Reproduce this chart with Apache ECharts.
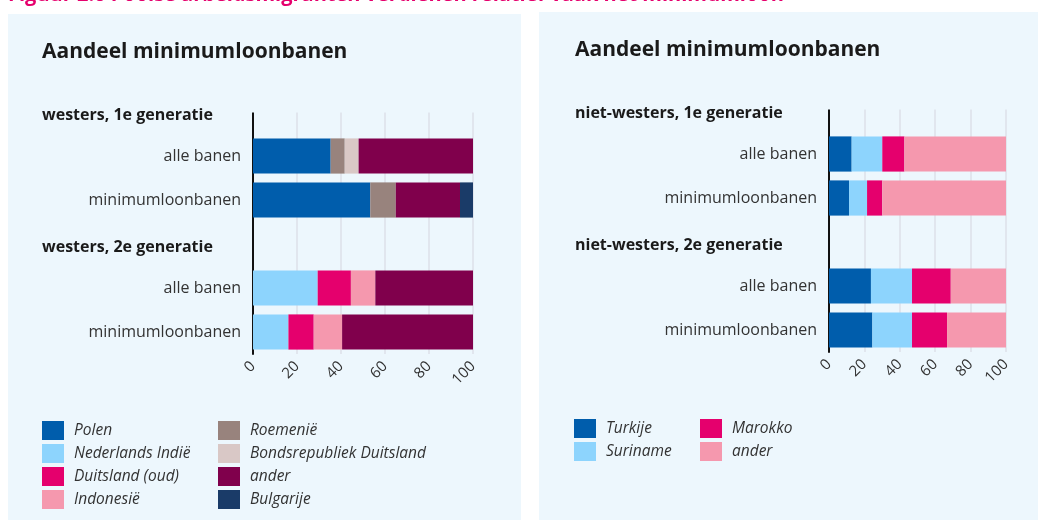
<!DOCTYPE html>
<html>
<head>
<meta charset="utf-8">
<script src="https://cdn.jsdelivr.net/npm/echarts@6/dist/echarts.min.js"></script>
<style>
  html, body { margin: 0; padding: 0; background: #fff; }
  #chart { width: 1038px; height: 520px; }
</style>
</head>
<body>
<div id="chart"></div>
<script>
// categorieën (van boven naar onder), kopjes staan op een eigen rij
const catLeft = ['westers, 1e generatie', 'alle banen', 'minimumloonbanen', 'westers, 2e generatie', 'alle banen', 'minimumloonbanen'];
const catRight = ['niet-westers, 1e generatie', 'alle banen', 'minimumloonbanen', 'niet-westers, 2e generatie', 'alle banen', 'minimumloonbanen'];
const headerRows = [0, 3];

// waarden: [1e gen alle banen, 1e gen minimumloonbanen, 2e gen alle banen, 2e gen minimumloonbanen]
const polen = [35.3, 53.3, null, null];
const nederlandsIndie = [null, null, 29.4, 16.1];
const duitslandOud = [null, null, 15.1, 11.5];
const indonesie = [null, null, 11.1, 12.9];
const roemenie = [6.4, 11.6, null, null];
const brd = [6.3, null, null, null];
const anderWesters = [52.0, 29.2, 44.4, 59.5];
const bulgarije = [null, 5.9, null, null];

const turkije = [12.8, 11.3, 23.7, 24.5];
const suriname = [17.3, 10.2, 23.2, 22.4];
const marokko = [12.5, 8.6, 21.9, 19.8];
const anderNietWesters = [57.4, 69.9, 31.2, 33.3];

const xTicks = [0, 20, 40, 60, 80, 100];

const font = '"Open Sans", sans-serif';
const panelBg = '#edf7fd';

// 4 waarden naar 6 rijen (kopjes krijgen null)
function rows(vals) {
    return [null, vals[0], vals[1], null, vals[2], vals[3]];
}

function yAxisFor(gridIndex, cats, headerWidth) {
    return {
        type: 'category',
        gridIndex: gridIndex,
        data: cats,
        inverse: true,
        axisLine: { lineStyle: { color: '#111', width: 2 } },
        axisTick: {
            alignWithLabel: true,
            length: 5,
            lineStyle: { color: '#999' },
            interval: function (index) { return headerRows.indexOf(index) < 0; }
        },
        axisLabel: {
            margin: 12,
            color: '#333',
            fontSize: 16,
            fontFamily: font,
            interval: 0,
            formatter: function (value, index) {
                return headerRows.indexOf(index) >= 0 ? '{h|' + value + '}' : value;
            },
            rich: {
                h: { width: headerWidth, align: 'left', fontWeight: 'bold', fontSize: 16, color: '#1a1a1a', fontFamily: font, padding: [6, 0, 0, 0] }
            }
        }
    };
}

function xAxisFor(gridIndex) {
    return {
        type: 'value',
        gridIndex: gridIndex,
        min: xTicks[0],
        max: xTicks[xTicks.length - 1],
        interval: 20,
        axisLine: { show: false },
        axisTick: { show: false },
        splitLine: { lineStyle: { color: '#dde1e8', width: 1.5 } },
        axisLabel: { rotate: 45, margin: 10, color: '#333', fontSize: 15, fontFamily: font }
    };
}

function bar(name, vals, color, idx) {
    return {
        name: name,
        type: 'bar',
        stack: 's' + idx,
        xAxisIndex: idx,
        yAxisIndex: idx,
        barCategoryGap: '20%',
        itemStyle: { color: color },
        data: rows(vals)
    };
}

function legendFor(names, left, top) {
    return {
        data: names,
        orient: 'vertical',
        left: left,
        top: top,
        padding: 0,
        itemGap: 4,
        itemWidth: 22,
        itemHeight: 19,
        icon: 'rect',
        selectedMode: false,
        textStyle: { fontStyle: 'italic', fontSize: 15.5, color: '#333', fontFamily: font, padding: [0, 0, 0, 5] }
    };
}

let chart = echarts.init(document.getElementById('chart'));
let option = {
    animation: false,
    backgroundColor: '#fff',
    graphic: [
        { type: 'rect', shape: { x: 8, y: 14, width: 513, height: 506 }, style: { fill: panelBg }, z: -10 },
        { type: 'rect', shape: { x: 539, y: 12, width: 499, height: 508 }, style: { fill: panelBg }, z: -10 },
        { type: 'text', x: 8, y: 5, style: { text: 'Figuur 2.6 Poolse arbeidsmigranten verdienen relatief vaak het minimumloon', font: 'bold 20px ' + font, fill: '#e5006d', verticalAlign: 'bottom' } },
        { type: 'text', x: 42, y: 52, style: { text: 'Aandeel minimumloonbanen', font: 'bold 21px ' + font, fill: '#1a1a1a', verticalAlign: 'middle' } },
        { type: 'text', x: 575, y: 50, style: { text: 'Aandeel minimumloonbanen', font: 'bold 21px ' + font, fill: '#1a1a1a', verticalAlign: 'middle' } },
        // bovenste rij van de as (kopje) zonder lijnen
        { type: 'rect', shape: { x: 245, y: 84, width: 240, height: 28.5 }, style: { fill: panelBg }, z: 100 },
        { type: 'rect', shape: { x: 821, y: 82, width: 195, height: 27.5 }, style: { fill: panelBg }, z: 100 }
    ],
    grid: [
        { left: 253, right: 565, top: 90, height: 264 },
        { left: 829, right: 32, top: 88, height: 264 }
    ],
    xAxis: [xAxisFor(0), xAxisFor(1)],
    yAxis: [yAxisFor(0, catLeft, 199), yAxisFor(1, catRight, 242)],
    legend: [
        legendFor(['Polen', 'Nederlands Indië', 'Duitsland (oud)', 'Indonesië'], 42, 421),
        legendFor(['Roemenië', 'Bondsrepubliek Duitsland', 'ander', 'Bulgarije'], 218, 421),
        legendFor(['Turkije', 'Suriname'], 574, 419),
        legendFor(['Marokko', 'ander '], 700, 419)
    ],
    series: [
        bar('Polen', polen, '#005dac', 0),
        bar('Nederlands Indië', nederlandsIndie, '#8dd4fd', 0),
        bar('Duitsland (oud)', duitslandOud, '#e5006d', 0),
        bar('Indonesië', indonesie, '#f598ae', 0),
        bar('Roemenië', roemenie, '#98837d', 0),
        bar('Bondsrepubliek Duitsland', brd, '#d9c8c6', 0),
        bar('ander', anderWesters, '#80004c', 0),
        bar('Bulgarije', bulgarije, '#1a3b68', 0),
        bar('Turkije', turkije, '#005dac', 1),
        bar('Suriname', suriname, '#8dd4fd', 1),
        bar('Marokko', marokko, '#e5006d', 1),
        bar('ander ', anderNietWesters, '#f598ae', 1)
    ]
};
chart.setOption(option);
</script>
</body>
</html>
